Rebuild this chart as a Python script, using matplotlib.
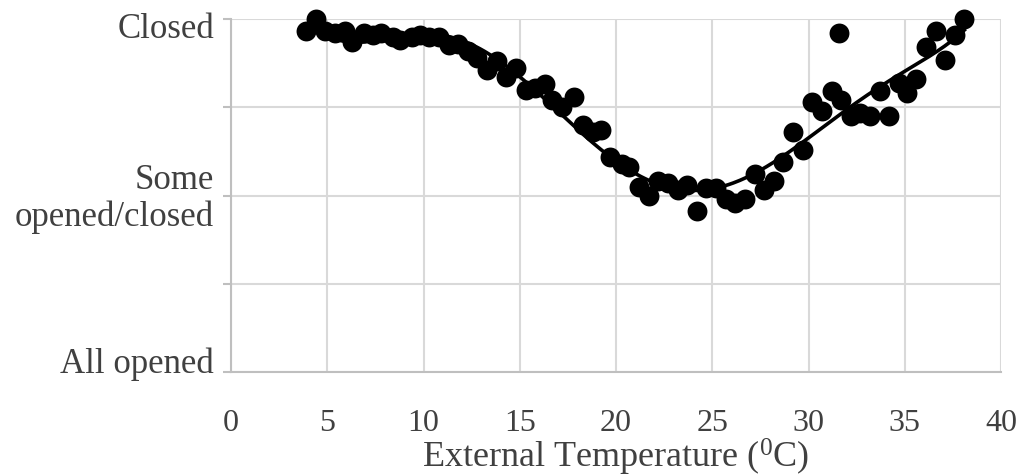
import numpy as np
import matplotlib
matplotlib.use("Agg")
import matplotlib.pyplot as plt
from matplotlib.transforms import ScaledTranslation

# Data (external temperature in degC, window state 0..2)
temperature = [3.9, 4.4, 4.9, 5.4, 5.9, 6.3, 6.9, 7.4, 7.8, 8.4, 8.8, 9.4, 9.8, 10.3,
               10.8, 11.3, 11.8, 12.3, 12.8, 13.3, 13.8, 14.3, 14.8, 15.3, 15.8, 16.3,
               16.7, 17.2, 17.8, 18.3, 18.8, 19.2, 19.7, 20.3, 20.7, 21.2, 21.7, 22.2,
               22.7, 23.2, 23.7, 24.2, 24.7, 25.2, 25.7, 26.2, 26.7, 27.2, 27.7, 28.2,
               28.7, 29.2, 29.7, 30.2, 30.7, 31.2, 31.6, 31.7, 32.2, 32.7, 33.2, 33.7,
               34.2, 34.7, 35.1, 35.6, 36.1, 36.6, 37.1, 37.6, 38.1]
state = [1.93, 2.00, 1.93, 1.92, 1.93, 1.87, 1.92, 1.91, 1.92, 1.90, 1.88, 1.90, 1.91, 1.90,
         1.90, 1.85, 1.86, 1.82, 1.78, 1.71, 1.76, 1.67, 1.72, 1.60, 1.61, 1.63,
         1.54, 1.50, 1.56, 1.40, 1.36, 1.37, 1.22, 1.18, 1.16, 1.05, 1.00, 1.08,
         1.07, 1.03, 1.06, 0.91, 1.04, 1.04, 0.98, 0.96, 0.98, 1.12, 1.03, 1.08,
         1.19, 1.36, 1.26, 1.53, 1.48, 1.59, 1.92, 1.54, 1.45, 1.47, 1.45, 1.59,
         1.45, 1.64, 1.58, 1.66, 1.84, 1.93, 1.77, 1.91, 2.00]

x_ticks = [0, 5, 10, 15, 20, 25, 30, 35, 40]
y_ticks = [0, 0.5, 1, 1.5, 2]
y_label_values = [0, 1, 2]
y_label_texts = ["All opened", "Some\nopened/closed", "Closed"]
x_label = "External Temperature ($\\mathregular{^0}$C)"
trend_order = 6

text_color = "#404040"
fonts = ["Liberation Serif", "DejaVu Serif"]
plt.rcParams["font.family"] = fonts
plt.rcParams["mathtext.fontset"] = "custom"
plt.rcParams["mathtext.rm"] = "Liberation Serif"

fig = plt.figure(figsize=(10.29, 4.77), dpi=100)
ax = fig.add_axes([231 / 1029, 1 - 373 / 477, (1001 - 231) / 1029, (373 - 20) / 477])

# polynomial trendline fitted to the data
t = np.array(temperature)
s = np.array(state)
coef = np.polyfit(t, s, trend_order)
xs = np.linspace(t.min(), t.max(), 300)
ax.plot(xs, np.polyval(coef, xs), color="black", lw=2.6, zorder=3)

ax.scatter(temperature, state, s=205, color="black", zorder=4, linewidths=0,
           clip_on=False)

ax.set_xlim(0, 40)
ax.set_ylim(0, 2)
ax.set_xticks(x_ticks)
ax.set_yticks(y_ticks)
ax.set_yticklabels([""] * len(y_ticks))
ax.grid(True, color="#d9d9d9", lw=1.5, zorder=0)
ax.set_axisbelow(True)
for side in ["top", "right"]:
    ax.spines[side].set_visible(False)
for side in ["left", "bottom"]:
    ax.spines[side].set_color("#bfbfbf")
    ax.spines[side].set_linewidth(1.5)
ax.tick_params(axis="x", length=0, pad=26, labelsize=23, labelcolor=text_color)
ax.tick_params(axis="y", length=6, width=1.5, color="#bfbfbf")
for lab in ax.get_xticklabels():
    lab.set_family(fonts)
ax.set_xlabel(x_label, fontsize=26, color=text_color, labelpad=-1, family=fonts)

# y category labels, positioned like the reference (baseline offsets in pixels)
baseline_offsets_px = [0, -30, -18]
for val, txt, off in zip(y_label_values, y_label_texts, baseline_offsets_px):
    tr = ax.get_yaxis_transform() + ScaledTranslation(-17 / 100, off / 100,
                                                       fig.dpi_scale_trans)
    ax.text(0, val, txt, transform=tr, ha="right", va="baseline", ma="right",
            fontsize=25, color=text_color, family=fonts, linespacing=1.17)

fig.savefig("out.png", dpi=100)
